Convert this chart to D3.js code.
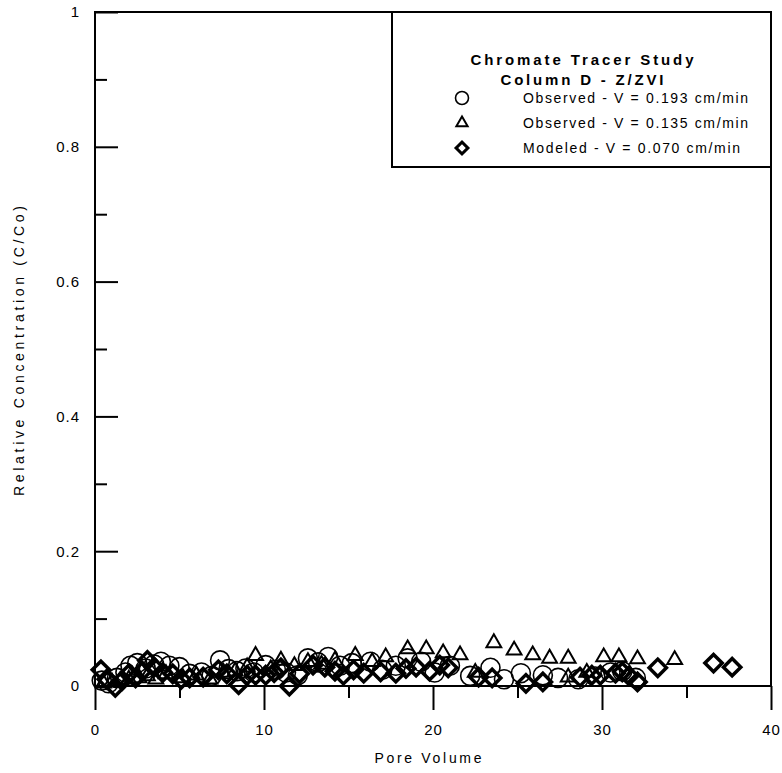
<!DOCTYPE html>
<html>
<head>
<meta charset="utf-8">
<script src="https://cdn.jsdelivr.net/npm/d3@7"></script>
<style>
  body { margin: 0; background: #fff; }
  svg text { font-family: "Liberation Sans", Arial, sans-serif; fill: #000; }
</style>
</head>
<body>
<div id="chart"></div>
<script>
var width = 782, height = 773
var margin = {top: 12, right: 11, bottom: 87, left: 95}

// Observed - V = 0.193 cm/min (circles)
var obs193 = [
  [0.4, 0.008], [0.8, 0.004], [1.3, 0.012], [1.8, 0.02], [2.1, 0.03], [2.5, 0.034],
  [3.0, 0.026], [3.5, 0.032], [3.9, 0.036], [4.4, 0.03], [5.0, 0.028], [5.6, 0.018],
  [6.3, 0.02], [6.9, 0.015], [7.4, 0.038], [7.9, 0.025], [8.4, 0.022], [8.9, 0.026],
  [9.4, 0.02], [10.1, 0.031], [10.7, 0.024], [11.3, 0.02], [12.0, 0.016], [12.6, 0.041],
  [13.2, 0.035], [13.8, 0.043], [14.5, 0.03], [15.2, 0.034], [16.3, 0.036], [17.0, 0.024],
  [17.8, 0.03], [18.5, 0.041], [19.3, 0.036], [20.1, 0.02], [21.0, 0.03], [22.2, 0.015],
  [23.4, 0.027], [24.2, 0.01], [25.2, 0.019], [26.5, 0.016], [27.4, 0.012], [28.6, 0.01],
  [29.6, 0.014], [30.5, 0.02], [31.2, 0.022], [32.0, 0.012]
]

// Observed - V = 0.135 cm/min (triangles)
var obs135 = [
  [0.5, 0.004], [1.0, 0.006], [1.5, 0.008], [2.0, 0.01], [2.6, 0.012], [3.1, 0.015],
  [3.6, 0.01], [4.2, 0.018], [5.2, 0.012], [6.0, 0.016], [6.8, 0.01], [7.6, 0.02],
  [8.3, 0.022], [9.0, 0.028], [9.5, 0.045], [10.4, 0.025], [11.0, 0.038], [11.8, 0.03],
  [12.6, 0.036], [13.4, 0.032], [14.2, 0.038], [15.4, 0.045], [16.4, 0.036], [17.2, 0.043],
  [18.5, 0.055], [19.6, 0.055], [20.6, 0.049], [21.6, 0.046], [22.5, 0.02], [23.6, 0.064],
  [24.8, 0.053], [25.9, 0.046], [26.9, 0.041], [28.0, 0.041], [28.0, 0.013], [29.1, 0.02],
  [30.1, 0.043], [31.0, 0.043], [32.1, 0.04], [34.3, 0.039]
]

// Modeled - V = 0.070 cm/min (diamonds)
var mod070 = [
  [0.35, 0.024], [0.7, 0.01], [1.2, -0.002], [1.6, 0.008], [2.0, 0.018], [2.4, 0.012],
  [2.8, 0.022], [3.1, 0.038], [3.5, 0.028], [4.0, 0.02], [4.6, 0.018], [5.1, 0.01],
  [5.6, 0.012], [6.4, 0.013], [7.3, 0.024], [7.8, 0.018], [8.5, 0.002], [9.0, 0.016],
  [9.5, 0.016], [10.1, 0.016], [10.6, 0.02], [11.0, 0.027], [11.5, 0.0], [12.1, 0.018],
  [12.9, 0.031], [13.6, 0.028], [14.2, 0.022], [14.7, 0.016], [15.3, 0.024], [15.9, 0.019],
  [16.9, 0.021], [17.8, 0.019], [18.4, 0.026], [19.0, 0.028], [19.8, 0.022], [20.4, 0.031],
  [20.9, 0.027], [22.7, 0.013], [23.5, 0.012], [25.5, 0.004], [26.5, 0.006], [28.7, 0.013],
  [29.4, 0.016], [29.9, 0.016], [30.8, 0.019], [31.2, 0.021], [31.6, 0.015], [32.1, 0.006],
  [33.3, 0.027], [36.6, 0.034], [37.7, 0.028]
]

var xMajor = [0, 10, 20, 30, 40]
var xMinor = [5, 15, 25, 35]
var yMajor = [0, 0.2, 0.4, 0.6, 0.8, 1]
var yMinor = [0.1, 0.3, 0.5, 0.7, 0.9]
var legendTitle = ["Chromate Tracer Study", "Column D - Z/ZVI"]
var legendLabels = ["Observed - V = 0.193 cm/min", "Observed - V = 0.135 cm/min", "Modeled - V = 0.070 cm/min"]

var svg = d3.select("#chart")
  .append("svg")
  .attr("width", width)
  .attr("height", height)

var xScale = d3.scaleLinear()
  .domain([0, 40])
  .range([margin.left, width - margin.right])

var yScale = d3.scaleLinear()
  .domain([0, 1])
  .range([height - margin.bottom, margin.top])

// frame
svg.append("rect")
  .attr("x", xScale(0))
  .attr("y", yScale(1))
  .attr("width", xScale(40) - xScale(0))
  .attr("height", yScale(0) - yScale(1))
  .attr("fill", "none")
  .attr("stroke", "black")
  .attr("stroke-width", 2)

// X axis: ticks point down
svg.append("g")
  .attr("transform", `translate(0,${yScale(0)})`)
  .call(d3.axisBottom(xScale).tickValues(xMajor).tickSize(24).tickPadding(14).tickFormat(d3.format("d")))
  .call(g => g.select(".domain").remove())
  .call(g => g.selectAll("line").attr("stroke-width", 2))
  .call(g => g.selectAll("text").attr("font-size", "15px").attr("letter-spacing", "1px"))

svg.append("g")
  .attr("transform", `translate(0,${yScale(0)})`)
  .call(d3.axisBottom(xScale).tickValues(xMinor).tickSize(12).tickFormat(""))
  .call(g => g.select(".domain").remove())
  .call(g => g.selectAll("line").attr("stroke-width", 2))

// Y axis: ticks point into the plot
svg.append("g")
  .attr("transform", `translate(${xScale(0)},0)`)
  .call(d3.axisRight(yScale).tickValues(yMajor).tickSize(23).tickFormat(""))
  .call(g => g.select(".domain").remove())
  .call(g => g.selectAll("line").attr("stroke-width", 2))

svg.append("g")
  .attr("transform", `translate(${xScale(0)},0)`)
  .call(d3.axisRight(yScale).tickValues(yMinor).tickSize(12).tickFormat(""))
  .call(g => g.select(".domain").remove())
  .call(g => g.selectAll("line").attr("stroke-width", 2))

svg.append("g")
  .attr("transform", `translate(${xScale(0)},0)`)
  .call(d3.axisLeft(yScale).tickValues(yMajor).tickSize(0).tickPadding(15).tickFormat(d => d3.format("")(d)))
  .call(g => g.select(".domain").remove())
  .call(g => g.selectAll("text").attr("font-size", "15px").attr("letter-spacing", "1px"))

// axis titles
svg.append("text")
  .attr("x", 428)
  .attr("y", 763)
  .attr("text-anchor", "middle")
  .attr("font-size", "14px")
  .attr("textLength", 107)
  .attr("lengthAdjust", "spacing")
  .text("Pore Volume")

svg.append("text")
  .attr("transform", "translate(24,351) rotate(-90)")
  .attr("text-anchor", "middle")
  .attr("font-size", "14px")
  .attr("textLength", 290)
  .attr("lengthAdjust", "spacing")
  .text("Relative Concentration (C/Co)")

// marks
var triangle = d3.symbol().type(d3.symbolTriangle).size(95)
var square = d3.symbol().type(d3.symbolSquare).size(150)

svg.selectAll("circle.obs193")
  .data(obs193)
  .enter()
  .append("circle")
  .attr("class", "obs193")
  .attr("cx", d => xScale(d[0]))
  .attr("cy", d => yScale(d[1]))
  .attr("r", 9.5)
  .attr("fill", "none")
  .attr("stroke", "black")
  .attr("stroke-width", 1.6)

svg.selectAll("path.obs135")
  .data(obs135)
  .enter()
  .append("path")
  .attr("class", "obs135")
  .attr("d", triangle)
  .attr("transform", d => `translate(${xScale(d[0])},${yScale(d[1])})`)
  .attr("fill", "none")
  .attr("stroke", "black")
  .attr("stroke-width", 2)

svg.selectAll("path.mod070")
  .data(mod070)
  .enter()
  .append("path")
  .attr("class", "mod070")
  .attr("d", square)
  .attr("transform", d => `translate(${xScale(d[0])},${yScale(d[1])}) rotate(45)`)
  .attr("fill", "none")
  .attr("stroke", "black")
  .attr("stroke-width", 3.5)

// legend
var legend = svg.append("g")

legend.append("rect")
  .attr("x", 392)
  .attr("y", yScale(1))
  .attr("width", xScale(40) - 392)
  .attr("height", 155)
  .attr("fill", "white")
  .attr("stroke", "black")
  .attr("stroke-width", 2)

legend.selectAll("text.title")
  .data(legendTitle)
  .enter()
  .append("text")
  .attr("class", "title")
  .attr("x", 582)
  .attr("y", (d, i) => 65 + i * 20)
  .attr("text-anchor", "middle")
  .attr("font-size", "15px")
  .attr("font-weight", "bold")
  .attr("textLength", (d, i) => i === 0 ? 223 : 163)
  .attr("lengthAdjust", "spacing")
  .text(d => d)

legend.selectAll("text.entry")
  .data(legendLabels)
  .enter()
  .append("text")
  .attr("class", "entry")
  .attr("x", 523)
  .attr("y", (d, i) => 103 + i * 25)
  .attr("font-size", "14px")
  .attr("textLength", (d, i) => i === 2 ? 217 : 225)
  .attr("lengthAdjust", "spacing")
  .text(d => d)

legend.append("circle")
  .attr("cx", 462)
  .attr("cy", 98)
  .attr("r", 6.5)
  .attr("fill", "none")
  .attr("stroke", "black")
  .attr("stroke-width", 1.6)

legend.append("path")
  .attr("d", d3.symbol().type(d3.symbolTriangle).size(55))
  .attr("transform", "translate(462,123)")
  .attr("fill", "none")
  .attr("stroke", "black")
  .attr("stroke-width", 2)

legend.append("path")
  .attr("d", d3.symbol().type(d3.symbolSquare).size(70))
  .attr("transform", "translate(462,148) rotate(45)")
  .attr("fill", "none")
  .attr("stroke", "black")
  .attr("stroke-width", 3)
</script>
</body>
</html>
